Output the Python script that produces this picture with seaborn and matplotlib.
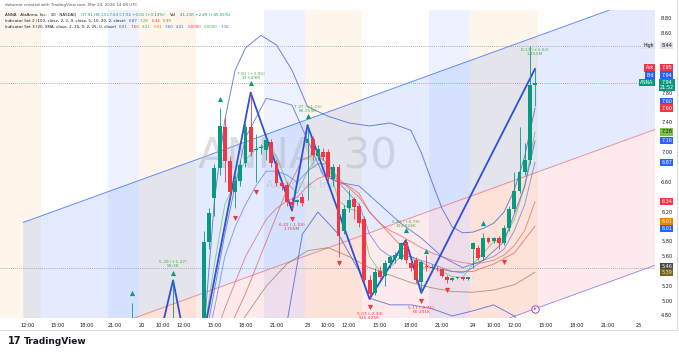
import matplotlib
matplotlib.use("Agg")
import matplotlib.pyplot as plt
import seaborn as sns
import numpy as np

sns.set_style("white")
plt.rcParams["font.family"] = ["DejaVu Sans"]

GREEN, RED, BLUE = "#089981", "#f23645", "#2962ff"

# ---- candles (bar index, open, high, low, close) ----
bar_i = [30, 38, 44, 45, 46, 47, 48, 49, 50, 51, 52, 53, 54, 55, 56, 57, 58, 59, 60, 61, 62, 63,
         64, 65, 66, 67, 68, 69, 70, 71, 72, 73, 74, 75, 76, 77, 78, 79, 80, 81, 82, 83, 84, 85,
         86, 87, 88, 89, 90, 91, 92, 93, 94, 95, 96, 97, 98, 99, 100, 101, 102, 103, 104, 105,
         106, 107, 108]
bar_o = [4.45, 4.40, 4.45, 5.80, 6.39, 6.79, 7.35, 6.89, 6.47, 6.62, 6.86, 7.35, 7.03, 7.06, 7.04, 7.14, 6.86, 6.59, 6.56, 6.33, 6.34, 6.40,
         7.13, 7.18, 6.96, 7.01, 7.01, 6.65, 6.80, 5.95, 6.26, 6.37, 6.28, 6.10, 5.28, 5.11, 5.40, 5.34, 5.51, 5.58, 5.57, 5.80, 5.51, 5.55,
         5.26, 5.48, 5.45, 5.45, 5.43, 5.33, 5.29, 5.31, 5.32, 5.30, 5.70, 5.72, 5.59, 5.85, 5.81, 5.85, 5.78, 5.98, 6.24, 6.48,
         6.74, 6.90, 7.91]
bar_h = [4.98, 5.28, 5.95, 6.25, 6.85, 7.60, 7.47, 6.95, 6.70, 6.90, 7.40, 7.81, 7.25, 7.12, 7.22, 7.18, 6.90, 6.62, 6.60, 6.40, 6.38, 6.45,
         7.37, 7.22, 7.10, 7.06, 7.05, 6.85, 6.85, 6.30, 6.50, 6.40, 6.32, 6.15, 5.35, 5.45, 5.48, 5.55, 5.62, 5.66, 5.80, 5.82, 5.55, 5.60,
         5.56, 5.62, 5.50, 5.48, 5.45, 5.35, 5.33, 5.32, 5.33, 5.33, 5.80, 5.75, 5.92, 5.87, 5.87, 5.88, 6.02, 6.28, 6.74, 7.35,
         7.13, 8.44, 8.13]
bar_l = [4.30, 4.30, 4.40, 5.70, 6.15, 6.70, 6.60, 6.40, 6.25, 6.55, 6.80, 6.95, 6.60, 6.98, 6.90, 6.80, 6.55, 6.50, 6.28, 6.22, 6.30, 6.28,
         6.36, 6.90, 6.90, 6.90, 6.62, 6.55, 5.60, 5.90, 6.20, 6.10, 6.00, 5.25, 5.03, 5.08, 5.30, 5.20, 5.45, 5.52, 5.55, 5.52, 5.40, 5.25,
         5.11, 5.40, 5.42, 5.40, 5.32, 5.25, 5.27, 5.30, 5.29, 5.29, 5.45, 5.56, 5.55, 5.78, 5.78, 5.70, 5.75, 5.95, 6.20, 6.45,
         6.70, 6.85, 7.63]
bar_c = [4.62, 4.50, 5.80, 6.19, 6.79, 7.36, 6.89, 6.47, 6.62, 6.84, 7.35, 7.01, 7.05, 7.06, 7.17, 6.86, 6.59, 6.55, 6.33, 6.30, 6.36, 6.32,
         7.18, 6.97, 7.05, 6.94, 6.67, 6.80, 5.88, 6.24, 6.36, 6.27, 6.05, 5.28, 5.10, 5.39, 5.33, 5.51, 5.59, 5.62, 5.78, 5.56, 5.45, 5.28,
         5.53, 5.46, 5.46, 5.44, 5.34, 5.28, 5.31, 5.31, 5.30, 5.32, 5.78, 5.58, 5.85, 5.80, 5.85, 5.78, 5.98, 6.24, 6.48, 6.74,
         6.90, 7.91, 7.94]

# ---- indicator lines ----
bb_i = [44, 46, 48, 50, 52, 55, 58, 61, 64, 68, 72, 76, 80, 84, 86, 88, 90, 92, 94, 96, 98, 100, 102, 104, 106, 108]
bb_up = [4.60, 6.36, 7.44, 8.11, 8.41, 8.58, 8.45, 8.11, 7.62, 7.49, 7.40, 7.36, 7.40, 7.30, 7.00, 6.62, 6.25, 6.00,
         5.92, 5.93, 5.98, 6.05, 6.20, 6.50, 6.95, 7.60]
mid_i = [44, 48, 52, 56, 60, 63, 66, 70, 74, 76, 80, 84, 88, 92, 96, 100, 104, 108]
bb_mid = [4.10, 4.50, 5.10, 5.80, 6.50, 6.90, 7.00, 6.65, 6.40, 6.20, 5.90, 5.60, 5.45, 5.40, 5.40, 5.50, 5.65, 6.01]
lo_i = [60, 63, 66, 70, 74, 76, 80, 84, 88, 92, 96, 100, 104, 108]
bb_lo = [4.70, 5.90, 6.20, 5.90, 5.40, 5.04, 4.95, 4.95, 4.90, 4.80, 4.87, 4.95, 4.80, 4.41]

ema_i = [44, 46, 48, 50, 52, 54, 56, 58, 60, 62, 64, 66, 68, 70, 72, 74, 76, 78, 80, 82, 84, 86, 88, 90, 92, 94,
         96, 98, 100, 102, 104, 106, 108]
ema_fast = [4.60, 5.50, 6.30, 6.60, 6.90, 7.05, 7.10, 6.95, 6.60, 6.45, 6.75, 6.95, 6.85, 6.35, 6.25, 6.20, 5.60,
            5.40, 5.45, 5.60, 5.60, 5.45, 5.45, 5.40, 5.33, 5.32, 5.50, 5.65, 5.80, 5.85, 6.10, 6.55, 7.28]
ema_mid = [4.30, 4.90, 5.60, 6.00, 6.30, 6.55, 6.75, 6.75, 6.70, 6.60, 6.75, 6.85, 6.85, 6.60, 6.45, 6.30, 5.90,
           5.70, 5.60, 5.62, 5.60, 5.55, 5.50, 5.45, 5.40, 5.38, 5.45, 5.55, 5.60, 5.70, 5.95, 6.30, 6.87]
ema_slow = [4.10, 4.50, 4.90, 5.25, 5.60, 5.85, 6.10, 6.25, 6.35, 6.40, 6.55, 6.65, 6.70, 6.60, 6.55, 6.45, 6.20,
            6.05, 5.95, 5.88, 5.80, 5.72, 5.65, 5.60, 5.55, 5.52, 5.50, 5.52, 5.55, 5.62, 5.75, 5.95, 6.34]
olive_i = [44, 48, 52, 56, 60, 64, 68, 72, 76, 80, 84, 88, 92, 96, 100, 104, 108]
olive = [4.00, 4.30, 4.80, 5.20, 5.50, 5.68, 5.72, 5.60, 5.45, 5.35, 5.25, 5.18, 5.13, 5.12, 5.15, 5.22, 5.39]
arc_i = [44, 48, 52, 56, 58, 61, 64, 67, 70, 74, 78, 82, 86, 90, 94, 98, 102, 106, 108]
arc = [4.40, 5.90, 7.20, 7.73, 7.70, 7.64, 7.17, 6.70, 6.60, 6.55, 6.30, 6.05, 5.85, 5.60, 5.45, 5.55, 5.80, 6.55, 7.16]

# ---- zigzag pivots and markers ----
zz_i = [33, 38, 42, 53, 61, 64, 76, 83, 86, 108]
zz_p = [3.81, 5.28, 3.86, 7.81, 6.22, 7.37, 5.03, 5.82, 5.11, 8.13]
zz_txt = ["", "5.28 (+1.47)\n59.3K", "", "7.81 (+3.95)\n13.549M", "6.22 (-1.59)\n1.765M", "7.37 (+1.15)\n86.359K",
          "5.03 (-2.34)\n515.425K", "5.82 (+0.79)\n133.024K", "5.11 (-0.71)\n60.201K", "8.13 (+3.02)\n1.155M"]
up_i = [30, 38, 47, 53, 64, 83, 87, 98]
up_p = [5.11, 5.38, 7.72, 7.94, 7.49, 5.96, 5.68, 6.05]
dn_i = [50, 54, 61, 70, 76, 86, 91, 102]
dn_p = [6.12, 6.47, 6.11, 5.51, 4.92, 5.00, 5.15, 5.53]

# ---- regression channel ----
chan_i = [9, 131.5]
chan_mid = [4.23, 7.32]
chan_dev = 1.83

# ---- sessions ----
pre_spans = [(4.0, 12.5), (31.5, 42.5), (63.5, 74.5), (95.5, 108.5)]
post_spans = [(25.5, 31.5), (55.5, 63.5), (87.5, 95.5)]

tick_i = [9.9, 15.6, 21.4, 26.8, 32, 36, 40, 46, 52, 58, 64, 68, 72, 78, 84, 90, 96, 100, 104, 110, 116, 122, 128]
tick_lab = ["12:00", "15:00", "18:00", "21:00", "20", "10:00", "12:00", "15:00", "18:00", "21:00", "23", "10:00",
            "12:00", "15:00", "18:00", "21:00", "24", "10:00", "12:00", "15:00", "18:00", "21:00", "25"]

# right scale labels: (position, text, background, text colour, name tag)
scale_boxes = [(8.44, "8.44", "#e0e3eb", "#131722", "High"), (8.14, "7.95", RED, "white", "Ask"),
               (8.045, "7.94", BLUE, "white", "Bid"), (7.91, "7.94\n21:52", GREEN, "white", "ANNA"),
               (7.69, "7.60", BLUE, "white", None), (7.60, "7.60", RED, "white", None),
               (7.28, "7.28", "#7cc242", "#131722", None), (7.16, "7.16", BLUE, "white", None),
               (6.87, "6.87", BLUE, "white", None), (6.34, "6.34", RED, "white", None),
               (6.07, "6.01", "#f57c00", "white", None), (5.98, "6.01", BLUE, "white", None),
               (5.465, "5.46", "#4a4a4a", "white", None), (5.385, "5.39", "#7a6420", "#f5e6a8", None)]

fig = plt.figure(figsize=(6.79, 3.52), dpi=100)
ax = fig.add_axes([0, 34 / 352, 655 / 679, 308 / 352])
ax.set_xlim(4.53, 131.2)
ax.set_ylim(4.773, 8.921)
for s in ax.spines.values():
    s.set_visible(False)
ax.set_xticks([])
ax.set_yticks([])

for a, b in pre_spans:
    ax.axvspan(a, b, color="#ff9800", alpha=0.08, lw=0, zorder=0)
for a, b in post_spans:
    ax.axvspan(a, b, color=BLUE, alpha=0.08, lw=0, zorder=0)

cm = np.array(chan_mid)
ax.fill_between(chan_i, cm, cm + chan_dev, color=BLUE, alpha=0.12, lw=0, zorder=0.5)
ax.fill_between(chan_i, cm - chan_dev, cm, color=RED, alpha=0.10, lw=0, zorder=0.5)
ax.plot(chan_i, cm + chan_dev, color=BLUE, lw=0.7, alpha=0.7, zorder=1)
ax.plot(chan_i, cm, color=RED, lw=0.7, alpha=0.5, zorder=1)
ax.plot(chan_i, cm - chan_dev, color="#6a4fd8", lw=0.7, alpha=0.6, zorder=1)

# dotted price lines
ax.axhline(8.44, color="#9598a1", ls=(0, (1, 1.5)), lw=0.6, zorder=1)
ax.axhline(7.94, color=RED, ls=(0, (1, 1.5)), lw=0.6, alpha=0.7, zorder=1)
ax.axhline(5.45, color="#9598a1", ls=(0, (1, 1.5)), lw=0.6, zorder=1)

# watermark
ax.text(62, 6.95, "ANNA, 30", fontsize=30, color="#b2b5be", alpha=0.45, ha="center", va="center", zorder=1)
ax.text(63, 6.56, "AlaAnna, Inc.", fontsize=8, color="#b2b5be", alpha=0.45, ha="center", va="center", zorder=1)

# indicator lines
for xs, ys, c, a in [(bb_i, bb_up, "#3d5fd9", 0.75), (mid_i, bb_mid, "#e0604a", 0.7), (lo_i, bb_lo, "#3d5fd9", 0.75),
                     (ema_i, ema_fast, "#66bb6a", 0.7), (ema_i, ema_mid, "#5c7fe8", 0.7),
                     (ema_i, ema_slow, "#d9534f", 0.6), (olive_i, olive, "#8d6e3a", 0.6), (arc_i, arc, "#3d5fd9", 0.7)]:
    sns.lineplot(x=xs, y=ys, ax=ax, color=c, alpha=a, lw=0.7, zorder=2)

# zigzag
sns.lineplot(x=zz_i, y=zz_p, ax=ax, color="#2f4fd8", lw=1.3, sort=False, zorder=3)

# candles
bi = np.array(bar_i); o = np.array(bar_o); h = np.array(bar_h); l = np.array(bar_l); c = np.array(bar_c)
col = np.where(c >= o, GREEN, RED)
ax.vlines(bi, l, h, colors=col, lw=0.6, zorder=4)
ax.bar(bi, np.maximum(np.abs(c - o), 0.012), bottom=np.minimum(o, c), width=0.75, color=col, lw=0, zorder=5)

# markers
ax.scatter(up_i, up_p, marker="^", s=14, color=GREEN, lw=0, zorder=6)
ax.scatter(dn_i, dn_p, marker="v", s=14, color=RED, lw=0, zorder=6)
for i, p, t in zip(zz_i, zz_p, zz_txt):
    if not t:
        continue
    if "(+" in t:
        ax.text(i, p + 0.17, t, fontsize=3.2, color="#4caf50", ha="center", va="bottom", linespacing=1.0, zorder=7)
    else:
        ax.text(i, p - 0.17, t, fontsize=3.2, color=RED, ha="center", va="top", linespacing=1.0, zorder=7)
ax.scatter([108], [4.9], s=28, facecolor="white", edgecolor="#9c27b0", lw=0.6, zorder=7)
ax.text(108, 4.9, "\u25b8", fontsize=3.5, color="#9c27b0", ha="center", va="center", zorder=8)

# x tick labels
for i, t in zip(tick_i, tick_lab):
    ax.text(i, -0.023, t, transform=ax.get_xaxis_transform(), fontsize=3.6, color="#131722",
            ha="center", va="center", clip_on=False)

# price scale
yt = ax.get_yaxis_transform()
box_pos = np.array([b[0] for b in scale_boxes])
for v in np.arange(4.8, 8.81, 0.2):
    if np.min(np.abs(box_pos - v)) < 0.075:
        continue
    ax.text(1.018, v, f"{v:.2f}", transform=yt, fontsize=3.6, color="#131722", ha="center", va="center", clip_on=False)

for v, t, bg, fg, name in scale_boxes:
    ax.text(1.018, v, t, transform=yt, fontsize=3.5, color=fg, ha="center", va="center", clip_on=False,
            linespacing=1.05, zorder=9, bbox=dict(boxstyle="square,pad=0.25", fc=bg, ec="none"))
    if name:
        tc = "#131722" if name == "High" else "white"
        ax.text(0.998, v + (0.035 if name == "ANNA" else 0), name, transform=yt, fontsize=3.3, color=tc,
                ha="right", va="center", clip_on=False, zorder=9,
                bbox=dict(boxstyle="square,pad=0.25", fc=bg, ec="none"))

# header
def rich(x, y, parts, size=2.9, gap=0.004):
    r = fig.canvas.get_renderer()
    for s, c in parts:
        t = fig.text(x, y, s, color=c, fontsize=size, va="center", ha="left")
        x += t.get_window_extent(r).width / fig.bbox.width + gap

fig.text(5 / 679, 1 - 5 / 352, "dotumar created with TradingView.com, Mar 24, 2026 14:08 UTC", fontsize=3.0,
         color="#50535e", va="center")
rich(5 / 679, 1 - 15 / 352, [("ANNA · AlaAnna, Inc. · 30 · NASDAQ", "#131722"),
                            ("O7.91 H8.13 L7.63 C7.94 +0.01 (+0.13%)", GREEN),
                            ("Vol", "#131722"), ("41.21K +2.49 (+45.55%)", GREEN)], gap=0.007)
rich(5 / 679, 1 - 21 / 352, [("Indicator Set 2 (100, close, 2, 2, 9, close, 5, 10, 20, 2, close)", "#131722"),
                            ("6.87", BLUE), ("7.28", "#4caf50"), ("6.34", RED), ("5.39", "#8d6e3a")])
rich(5 / 679, 1 - 27 / 352, [("Indicator Set 3 (20, SMA, close, 2, 20, 0, 2, 25, 0, close)", "#131722"),
                            ("6.01", BLUE), ("7.60", RED), ("4.41", "#4caf50"), ("6.01", "#f57c00"),
                            ("7.60", BLUE), ("4.41", BLUE), ("0.0000", RED), ("0.0000", "#4caf50"), ("7.16", BLUE)])

# frame and logo
fig.add_artist(plt.Line2D([0, 677 / 679], [1 - 330 / 352] * 2, color="#d1d4dc", lw=0.6))
fig.add_artist(plt.Line2D([677 / 679] * 2, [1 - 330 / 352, 1], color="#d1d4dc", lw=0.6))
fig.text(8 / 679, 1 - 341 / 352, "17", fontsize=7, fontweight="bold", color="#131722", va="center")
fig.text(24 / 679, 1 - 341 / 352, "TradingView", fontsize=6.5, fontweight="bold", color="#131722", va="center")

fig.savefig("out.png", dpi=100)
